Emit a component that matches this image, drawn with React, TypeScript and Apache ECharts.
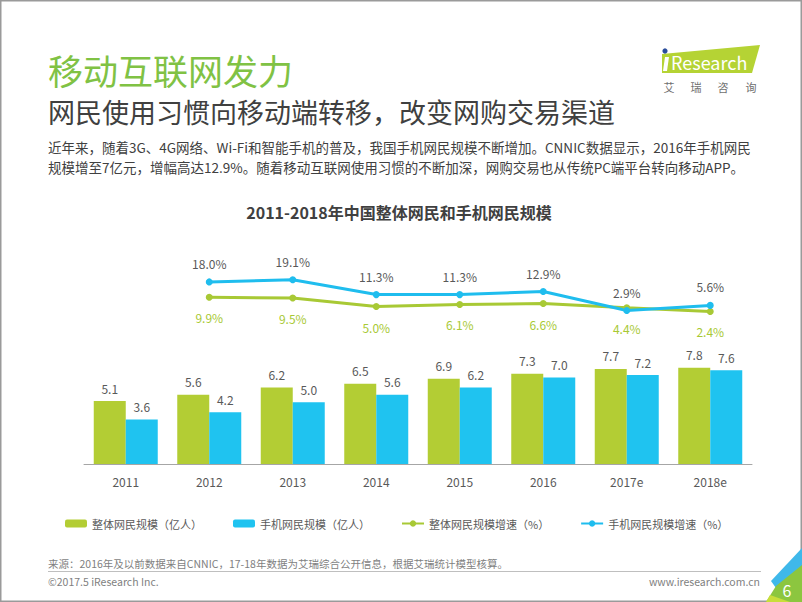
import React, { useEffect, useRef } from 'react';
import * as echarts from 'echarts';

const years = ['2011', '2012', '2013', '2014', '2015', '2016', '2017e', '2018e'];
const totalUsers = [5.1, 5.6, 6.2, 6.5, 6.9, 7.3, 7.7, 7.8];
const mobileUsers = [3.6, 4.2, 5.0, 5.6, 6.2, 7.0, 7.2, 7.6];
const totalGrowth = [null, 9.9, 9.5, 5.0, 6.1, 6.6, 4.4, 2.4];
const mobileGrowth = [null, 18.0, 19.1, 11.3, 11.3, 12.9, 2.9, 5.6];
const seriesNames = ['整体网民规模（亿人）', '手机网民规模（亿人）', '整体网民规模增速（%）', '手机网民规模增速（%）'];
const logoChars = ['艾', '瑞', '咨', '询'];

const FONT = '"Noto Sans CJK SC", "Noto Sans", sans-serif';
const GREEN = '#b3cd34';
const BLUE = '#1fc3f0';
const TEXT = '#595959';

function txt(text: string, x: number, y: number, size: number, fill: string, opts: any = {}) {
  return {
    type: 'text',
    x,
    y,
    silent: true,
    style: {
      text,
      fill,
      fontSize: size,
      fontFamily: FONT,
      fontWeight: opts.bold ? 'bold' : 'normal',
      align: opts.align || 'left',
      verticalAlign: 'middle',
    },
  };
}

export default function App() {
  const ref = useRef<HTMLDivElement>(null);
  useEffect(() => {
    const chart = echarts.init(ref.current!, null, { renderer: 'svg' });
    const option: any = {
      animation: false,
      backgroundColor: '#ffffff',
      textStyle: { fontFamily: FONT },
      legend: {
        left: 60,
        top: 513,
        itemGap: 31,
        itemWidth: 22,
        itemHeight: 8,
        textStyle: { fontSize: 11, color: TEXT, fontFamily: FONT },
        data: seriesNames,
      },
      grid: [
        { left: 84, right: 50, top: 340.5, bottom: 138 },
        { left: 84, right: 50, top: 268.65, bottom: 286 },
      ],
      xAxis: [
        {
          type: 'category',
          gridIndex: 0,
          data: years,
          axisLine: { lineStyle: { color: '#a6a6a6', width: 1 } },
          axisTick: { show: false },
          axisLabel: { color: TEXT, fontSize: 12, margin: 11, fontFamily: FONT },
        },
        { type: 'category', gridIndex: 1, data: years, show: false },
      ],
      yAxis: [
        { type: 'value', gridIndex: 0, min: 0, max: 10, show: false, splitLine: { show: false } },
        { type: 'value', gridIndex: 1, min: 0, max: 25, show: false, splitLine: { show: false } },
      ],
      series: [
        {
          name: seriesNames[0],
          type: 'bar',
          xAxisIndex: 0,
          yAxisIndex: 0,
          data: totalUsers,
          barWidth: 32,
          barGap: '0%',
          itemStyle: { color: GREEN },
          label: {
            show: true,
            position: 'top',
            distance: 7,
            color: TEXT,
            fontSize: 12,
            fontFamily: FONT,
            formatter: (p: any) => p.value.toFixed(1),
          },
        },
        {
          name: seriesNames[1],
          type: 'bar',
          xAxisIndex: 0,
          yAxisIndex: 0,
          data: mobileUsers,
          barWidth: 32,
          barGap: '0%',
          itemStyle: { color: BLUE },
          label: {
            show: true,
            position: 'top',
            distance: 7,
            color: TEXT,
            fontSize: 12,
            fontFamily: FONT,
            formatter: (p: any) => p.value.toFixed(1),
          },
        },
        {
          name: seriesNames[2],
          type: 'line',
          xAxisIndex: 1,
          yAxisIndex: 1,
          data: totalGrowth,
          symbol: 'circle',
          symbolSize: 7,
          itemStyle: { color: '#a8c935' },
          lineStyle: { color: '#a8c935', width: 3 },
          label: {
            show: true,
            position: 'bottom',
            distance: 11,
            color: '#a8c935',
            fontSize: 12,
            fontFamily: FONT,
            formatter: (p: any) => p.value.toFixed(1) + '%',
          },
        },
        {
          name: seriesNames[3],
          type: 'line',
          xAxisIndex: 1,
          yAxisIndex: 1,
          data: mobileGrowth,
          symbol: 'circle',
          symbolSize: 7,
          itemStyle: { color: '#1fbdee' },
          lineStyle: { color: '#1fbdee', width: 3 },
          label: {
            show: true,
            position: 'top',
            distance: 9,
            color: TEXT,
            fontSize: 12,
            fontFamily: FONT,
            formatter: (p: any) => p.value.toFixed(1) + '%',
          },
        },
      ],
      graphic: [
        {
          type: 'rect',
          silent: true,
          shape: { x: 0.75, y: 0.75, width: 800.5, height: 600.5 },
          style: { fill: 'none', stroke: '#9a9a9a', lineWidth: 1.5 },
        },
        txt('移动互联网发力', 48, 69, 35, '#80c244'),
        txt('网民使用习惯向移动端转移，改变网购交易渠道', 48, 111, 27, '#404040'),
        txt('近年来，随着3G、4G网络、Wi-Fi和智能手机的普及，我国手机网民规模不断增加。CNNIC数据显示，2016年手机网民', 48, 147, 13.5, '#404040'),
        txt('规模增至7亿元，增幅高达12.9%。随着移动互联网使用习惯的不断加深，网购交易也从传统PC端平台转向移动APP。', 48, 167, 13.5, '#404040'),
        txt('2011-2018年中国整体网民和手机网民规模', 399, 212, 16, '#404040', { bold: true, align: 'center' }),
        // logo
        {
          type: 'polygon',
          silent: true,
          shape: { points: [[662, 54], [760, 45], [752, 73], [662, 73]] },
          style: { fill: '#b5d334' },
        },
        {
          type: 'polygon',
          silent: true,
          shape: { points: [[665, 57], [669, 57], [667, 71], [663, 71]] },
          style: { fill: '#ffffff' },
        },
        { type: 'circle', silent: true, shape: { cx: 665, cy: 51, r: 2.6 }, style: { fill: '#2a4d9b' } },
        txt('Research', 671, 62, 18, '#ffffff'),
        txt(logoChars[0], 669, 87, 11, '#6f6f6f', { align: 'center' }),
        txt(logoChars[1], 696, 87, 11, '#6f6f6f', { align: 'center' }),
        txt(logoChars[2], 723, 87, 11, '#6f6f6f', { align: 'center' }),
        txt(logoChars[3], 751, 87, 11, '#6f6f6f', { align: 'center' }),
        // footer
        txt('来源：2016年及以前数据来自CNNIC，17-18年数据为艾瑞综合公开信息，根据艾瑞统计模型核算。', 48, 563, 10.5, '#7f7f7f'),
        {
          type: 'line',
          silent: true,
          shape: { x1: 48, y1: 571.5, x2: 761, y2: 571.5 },
          style: { stroke: '#bfbfbf', lineWidth: 1 },
        },
        txt('©2017.5 iResearch Inc.', 48, 581, 10.5, '#7f7f7f'),
        txt('www.iresearch.com.cn', 760, 581, 10.5, '#7f7f7f', { align: 'right' }),
        // corner
        {
          type: 'polygon',
          silent: true,
          shape: { points: [[802, 548], [802, 566], [776, 588], [771, 581]] },
          style: { fill: '#3fb8ea' },
        },
        {
          type: 'polygon',
          silent: true,
          shape: { points: [[802, 565], [802, 602], [766, 602], [776, 586]] },
          style: { fill: '#8cc63f' },
        },
        {
          type: 'polygon',
          silent: true,
          shape: { points: [[770, 595], [790, 602], [766, 602]] },
          style: { fill: '#c8de3a' },
        },
        txt('6', 787, 590, 16, '#ffffff', { align: 'center' }),
      ],
    };
    chart.setOption(option);
    return () => chart.dispose();
  }, []);
  return (
    <div
      ref={ref}
      style={{ position: 'fixed', left: 0, top: 0, width: 802, height: 602, background: '#fff' }}
    />
  );
}
